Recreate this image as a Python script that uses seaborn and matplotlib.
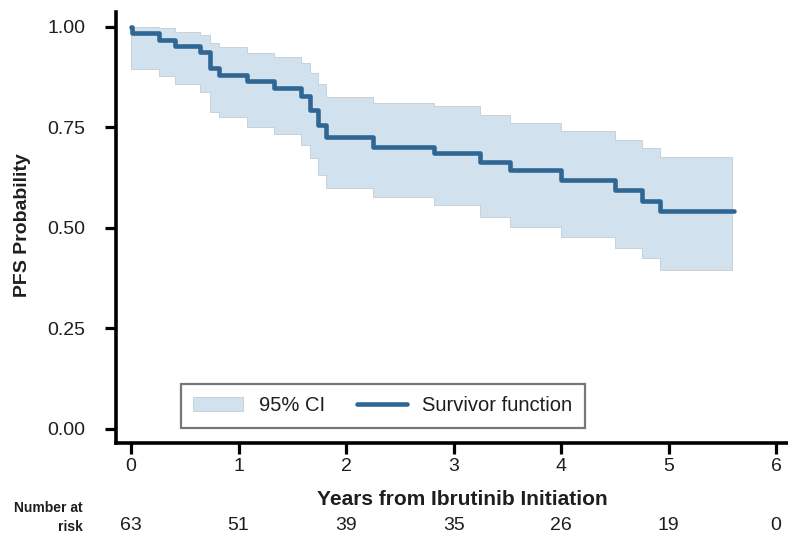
import matplotlib
matplotlib.use("Agg")
import matplotlib.pyplot as plt
import seaborn as sns
import pandas as pd
from matplotlib.transforms import blended_transform_factory

# ---- data ----
curve_t = [0.0, 0.01, 0.26, 0.41, 0.64, 0.73, 0.82, 1.08, 1.33, 1.58, 1.66,
           1.74, 1.81, 2.25, 2.82, 3.25, 3.52, 4.00, 4.50, 4.75, 4.92, 5.61]
curve_s = [1.0, 0.984, 0.968, 0.952, 0.937, 0.897, 0.881, 0.865, 0.848, 0.827, 0.794,
           0.757, 0.726, 0.702, 0.686, 0.665, 0.645, 0.618, 0.595, 0.568, 0.541, 0.541]

band_t = [0.0, 0.26, 0.41, 0.64, 0.73, 0.82, 1.08, 1.33, 1.58, 1.66,
          1.74, 1.81, 2.25, 2.82, 3.25, 3.52, 4.00, 4.50, 4.75, 4.92, 5.585]
band_hi = [1.0, 0.996, 0.988, 0.979, 0.960, 0.950, 0.935, 0.924, 0.909, 0.885,
           0.858, 0.826, 0.810, 0.802, 0.781, 0.760, 0.740, 0.719, 0.698, 0.676, 0.676]
band_lo = [0.896, 0.878, 0.857, 0.839, 0.789, 0.776, 0.752, 0.733, 0.706, 0.673,
           0.632, 0.599, 0.578, 0.557, 0.528, 0.503, 0.478, 0.449, 0.425, 0.396, 0.396]

x_ticks = [0, 1, 2, 3, 4, 5, 6]
y_ticks = [0.0, 0.25, 0.5, 0.75, 1.0]
at_risk = [63, 51, 39, 35, 26, 19, 0]

LINE = "#2f6694"
BAND = "#d2e1ee"
TXT = "#1e1e1e"

sns.set_style("ticks")
plt.rcParams["font.family"] = ["Liberation Sans", "DejaVu Sans"]

fig = plt.figure(figsize=(7.88, 5.36), dpi=100)
ax = fig.add_axes([116 / 788, 1 - 443 / 536, 672 / 788, 431 / 536])

ax.fill_between(band_t, band_lo, band_hi, step="post", facecolor=BAND,
                edgecolor="#c3ccd4", linewidth=0.6, label="95% CI", zorder=1)
df = pd.DataFrame({"t": curve_t, "s": curve_s})
sns.lineplot(data=df, x="t", y="s", drawstyle="steps-post", color=LINE,
             linewidth=3.3, estimator=None, ax=ax, label="Survivor function", zorder=3)

ax.set_xlim(-0.14, 6.11)
ax.set_ylim(-0.035, 1.037)
ax.set_xticks(x_ticks)
ax.set_xticklabels([str(v) for v in x_ticks])
ax.set_yticks(y_ticks)
ax.set_yticklabels([f"{v:.2f}" for v in y_ticks])

for s in ["top", "right"]:
    ax.spines[s].set_visible(False)
for s in ["left", "bottom"]:
    ax.spines[s].set_linewidth(2.6)
    ax.spines[s].set_color("black")
ax.tick_params(axis="both", direction="out", width=2.3, length=8, labelsize=14,
               color="black", labelcolor=TXT)
ax.tick_params(axis="y", pad=14)
ax.tick_params(axis="x", pad=3)

ax.set_xlabel("Years from Ibrutinib Initiation", fontsize=15, fontweight="bold",
              color=TXT)
ax.set_ylabel("PFS Probability", fontsize=14, fontweight="bold", color=TXT)
ax.xaxis.set_label_coords(0.515, -0.109)
ax.yaxis.set_label_coords(-0.126, 0.506)

handles, labels = ax.get_legend_handles_labels()
order = [labels.index("95% CI"), labels.index("Survivor function")]
leg = ax.legend([handles[i] for i in order], [labels[i] for i in order],
                ncol=2, loc="center", bbox_to_anchor=(0.397, 0.086),
                frameon=True, fancybox=False, fontsize=14.5, handlelength=2.5,
                handleheight=0.7, columnspacing=1.6, handletextpad=0.75,
                borderpad=0.6, borderaxespad=0)
leg.get_frame().set_edgecolor("#555555")
leg.get_frame().set_linewidth(1.6)
for t in leg.get_texts():
    t.set_color(TXT)

tr = blended_transform_factory(ax.transData, fig.transFigure)
fig.text(83 / 788, 1 - 508 / 536, "Number at", ha="right", va="center",
         fontsize=10, fontweight="bold", color=TXT)
fig.text(83 / 788, 1 - 527 / 536, "risk", ha="right", va="center",
         fontsize=10, fontweight="bold", color=TXT)
for xv, n in zip(x_ticks, at_risk):
    ax.text(xv, 1 - 526 / 536, str(n), transform=tr, ha="center", va="center",
            fontsize=14, color=TXT)

fig.savefig("out.png", dpi=100)
